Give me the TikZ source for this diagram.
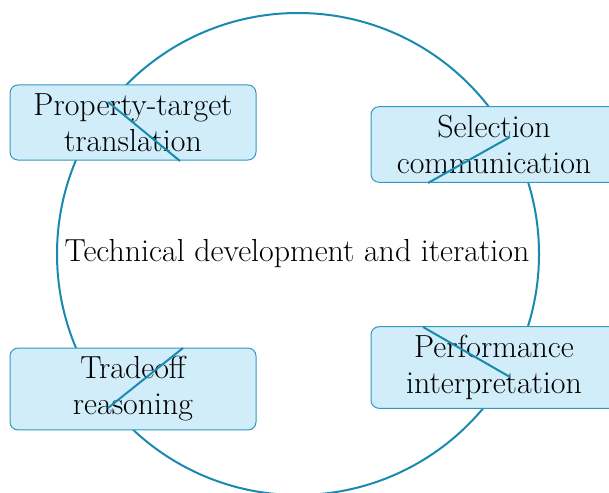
\documentclass[tikz,border=0pt]{standalone}
\usetikzlibrary{shapes.geometric}
\definecolor{ring}{RGB}{24,138,176}
\definecolor{boxfill}{RGB}{209,237,249}
\definecolor{boxline}{RGB}{50,152,190}
\begin{document}
\begin{tikzpicture}[x=1pt,y=-1pt,
  txt/.style={font=\fontsize{31.9}{36}\selectfont},
  stage/.style={txt, draw=boxline, line width=1pt, fill=boxfill, rounded corners=8pt,
    text width=226pt, inner xsep=10pt, inner ysep=8.5pt, align=center},
  seg/.style={draw=ring, line width=2pt}]
\useasboundingbox (0,0) rectangle (609,492);
\clip (0,0) rectangle (609,492);
\node[draw=ring, line width=2pt, circle, minimum size=482pt, inner sep=0pt] (ring) at (298,254) {};
\node[txt] (center) at (297,254) {Technical development and iteration};
\node[stage] (prop) at (133,122.5) {Property-target\\translation};
\node[stage] (sel) at (494,144.5) {Selection\\communication};
\node[stage] (trade) at (133,389) {Tradeoff\\reasoning};
\node[stage] (perf) at (494,367.5) {Performance\\interpretation};
\coordinate (p1) at (108,102); \coordinate (p2) at (180,161);
\coordinate (s1) at (510,137); \coordinate (s2) at (428,183);
\coordinate (t1) at (183,348); \coordinate (t2) at (108,408);
\coordinate (f1) at (423,327); \coordinate (f2) at (510,377);
\draw[seg] (p1) -- (p2);
\draw[seg] (s1) -- (s2);
\draw[seg] (t1) -- (t2);
\draw[seg] (f1) -- (f2);
\end{tikzpicture}
\end{document}
